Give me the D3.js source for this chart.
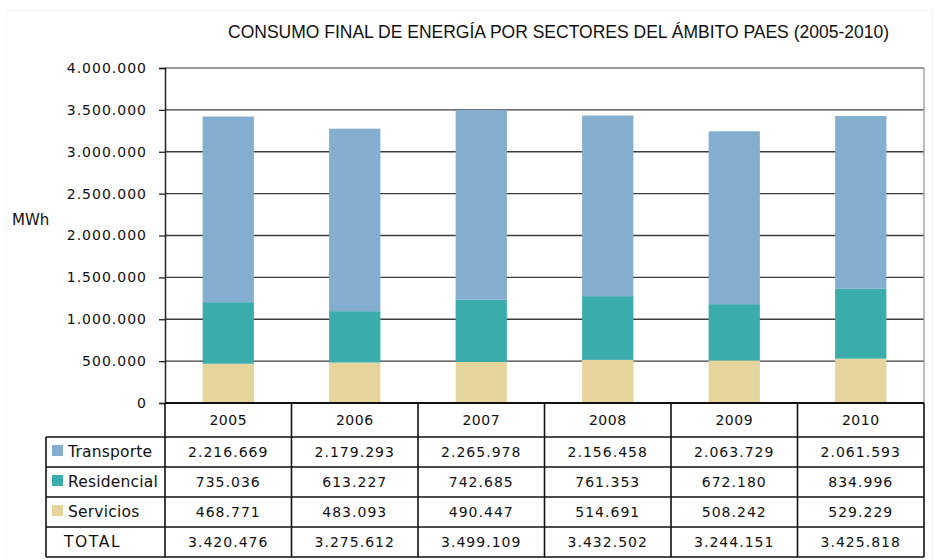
<!DOCTYPE html>
<html>
<head>
<meta charset="utf-8">
<script src="https://cdn.jsdelivr.net/npm/d3@7"></script>
<style>
  body { margin: 0; background: #fff; }
  svg { display: block; }
</style>
</head>
<body>
<div id="chart"></div>
<script>
// data
const years = ["2005", "2006", "2007", "2008", "2009", "2010"];
const transporte = [2216669, 2179293, 2265978, 2156458, 2063729, 2061593];
const residencial = [735036, 613227, 742685, 761353, 672180, 834996];
const servicios = [468771, 483093, 490447, 514691, 508242, 529229];
const totals = [3420476, 3275612, 3499109, 3432502, 3244151, 3425818];
const yTicks = [0, 500000, 1000000, 1500000, 2000000, 2500000, 3000000, 3500000, 4000000];

const seriesColors = { Transporte: "#84aed0", Residencial: "#3aacac", Servicios: "#e5d49b" };

const width = 934, height = 560;
const plot = { left: 165, right: 924, top: 68, bottom: 403 };
const tableLeft = 46;
const rowY = [403, 437, 467, 497, 527, 557]; // header, 3 series, total

const locale = d3.formatLocale({ decimal: ",", thousands: ".", grouping: [3], currency: ["", "€"] });
const fmt = locale.format(",d");

const svg = d3.select("#chart").append("svg")
  .attr("width", width)
  .attr("height", height)
  .style("font-family", "'DejaVu Sans', sans-serif");

// faint outer frame
svg.append("rect")
  .attr("x", 6.5).attr("y", 10.5)
  .attr("width", width - 8).attr("height", height - 8)
  .attr("fill", "none").attr("stroke", "#f3f3f3");

// Scales
const x = d3.scaleBand().domain(years).range([plot.left, plot.right]).padding(0);
const y = d3.scaleLinear().domain([0, 4000000]).range([plot.bottom, plot.top]);

// Title (narrow, tall face in the original)
svg.append("text")
  .attr("x", 228).attr("y", 38)
  .attr("textLength", 661)
  .attr("lengthAdjust", "spacingAndGlyphs")
  .style("font-family", "'Liberation Sans', sans-serif")
  .style("font-size", "18px")
  .attr("fill", "#111")
  .text("CONSUMO FINAL DE ENERGÍA POR SECTORES DEL ÁMBITO PAES (2005-2010)");

// Gridlines
svg.append("g")
  .selectAll("line")
  .data(yTicks.filter(d => d > 0))
  .join("line")
  .attr("x1", plot.left).attr("x2", plot.right)
  .attr("y1", d => y(d)).attr("y2", d => y(d))
  .attr("stroke", d => d === 4000000 ? "#777" : "#3c3c3c")
  .attr("stroke-width", 1.3);

// right border
svg.append("line")
  .attr("x1", plot.right).attr("x2", plot.right)
  .attr("y1", plot.top).attr("y2", plot.bottom)
  .attr("stroke", "#999").attr("stroke-width", 1.3);

// Stacked bars
const rows = years.map((yr, i) => ({
  year: yr,
  Transporte: transporte[i],
  Residencial: residencial[i],
  Servicios: servicios[i]
}));
const stack = d3.stack().keys(["Servicios", "Residencial", "Transporte"]);
const stacked = stack(rows);
const barW = x.bandwidth() * 0.405;

svg.append("g")
  .selectAll("g")
  .data(stacked)
  .join("g")
  .attr("fill", d => seriesColors[d.key])
  .selectAll("rect")
  .data(d => d)
  .join("rect")
  .attr("x", d => x(d.data.year) + (x.bandwidth() - barW) / 2)
  .attr("y", d => y(d[1]))
  .attr("width", barW)
  .attr("height", d => y(d[0]) - y(d[1]));

// Y axis
const yAxis = svg.append("g")
  .attr("transform", `translate(${plot.left},0)`)
  .call(d3.axisLeft(y).tickValues(yTicks).tickSize(6).tickPadding(12).tickFormat(fmt));
yAxis.select(".domain").attr("stroke", "#222").attr("stroke-width", 1.5);
yAxis.selectAll(".tick line").attr("stroke", "#222").attr("stroke-width", 1.3);
yAxis.selectAll(".tick text")
  .style("font-family", "'DejaVu Sans', sans-serif")
  .style("font-size", "14px")
  .style("letter-spacing", "1px")
  .attr("fill", "#111");

// MWh label
svg.append("text")
  .attr("x", 12).attr("y", 225)
  .style("font-size", "15px")
  .attr("fill", "#111")
  .text("MWh");

// ---- Data table ----
const table = svg.append("g");
const lineStyle = sel => sel.attr("stroke", "#111").attr("stroke-width", 1.6);

// horizontal lines
table.selectAll(".hline")
  .data(rowY)
  .join("line")
  .attr("class", "hline")
  .attr("x1", (d, i) => i === 0 ? plot.left : tableLeft)
  .attr("x2", plot.right)
  .attr("y1", d => d).attr("y2", d => d)
  .call(lineStyle);
table.select(".hline").attr("stroke-width", 2.2);

// vertical lines: column boundaries
const colEdges = years.map(yr => x(yr)).concat([plot.right]);
table.selectAll(".vline")
  .data(colEdges)
  .join("line")
  .attr("class", "vline")
  .attr("x1", d => d).attr("x2", d => d)
  .attr("y1", rowY[0]).attr("y2", rowY[5])
  .call(lineStyle);
table.append("line")
  .attr("x1", tableLeft).attr("x2", tableLeft)
  .attr("y1", rowY[1]).attr("y2", rowY[5])
  .call(lineStyle);

// year headers
table.selectAll(".yr")
  .data(years)
  .join("text")
  .attr("class", "yr")
  .attr("x", d => x(d) + x.bandwidth() / 2)
  .attr("y", (rowY[0] + rowY[1]) / 2 + 5)
  .attr("text-anchor", "middle")
  .style("font-size", "14px")
  .style("letter-spacing", "0.5px")
  .attr("fill", "#111")
  .text(d => d);

// row labels with legend swatches
const tableRows = [
  { name: "Transporte", values: transporte, swatch: true },
  { name: "Residencial", values: residencial, swatch: true },
  { name: "Servicios", values: servicios, swatch: true },
  { name: "TOTAL", values: totals, swatch: false }
];

tableRows.forEach((r, ri) => {
  const cy = (rowY[ri + 1] + rowY[ri + 2]) / 2;
  if (r.swatch) {
    table.append("rect")
      .attr("x", 52).attr("y", cy - 7)
      .attr("width", 11).attr("height", 11)
      .attr("fill", seriesColors[r.name]);
  }
  table.append("text")
    .attr("x", r.swatch ? 68 : 64)
    .attr("y", cy + 5)
    .style("font-size", "15.5px")
    .style("letter-spacing", r.swatch ? "0.2px" : "1.6px")
    .attr("fill", "#111")
    .text(r.name);
  table.selectAll(null)
    .data(r.values)
    .join("text")
    .attr("x", (d, i) => x(years[i]) + x.bandwidth() / 2)
    .attr("y", cy + 5)
    .attr("text-anchor", "middle")
    .style("font-size", "14px")
    .style("letter-spacing", "1px")
    .attr("fill", "#111")
    .text(d => fmt(d));
});
</script>
</body>
</html>
